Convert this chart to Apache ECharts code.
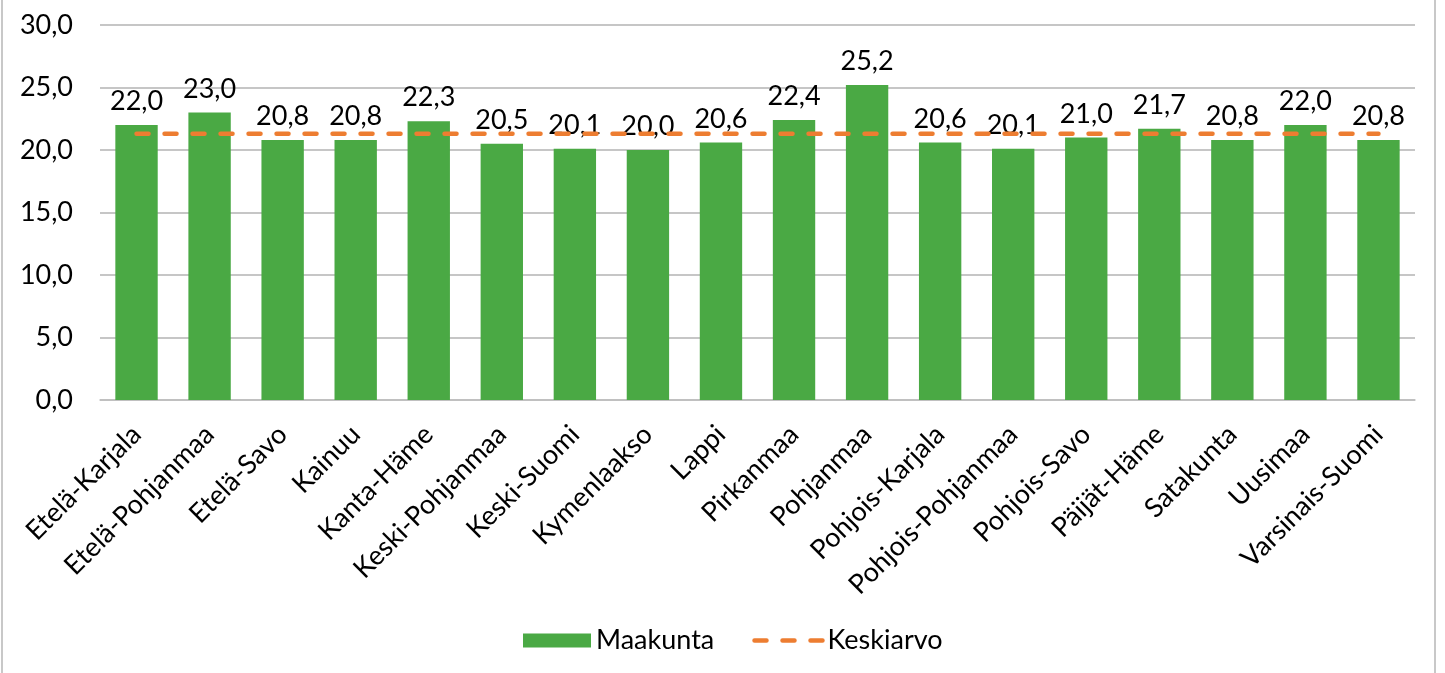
<!DOCTYPE html>
<html><head><meta charset="utf-8">
<script src="https://cdn.jsdelivr.net/npm/echarts@6/dist/echarts.min.js"></script>
<style>
html,body{margin:0;padding:0;background:#fff;}
#frame{position:absolute;left:1px;top:-2px;width:1435px;height:690px;border:2px solid #c8c8c8;box-sizing:border-box;}
#chart{position:absolute;left:0;top:0;width:1445px;height:673px;}
</style></head>
<body>
<div id="frame"></div>
<div id="chart"></div>
<script>
const categories = ["Etelä-Karjala","Etelä-Pohjanmaa","Etelä-Savo","Kainuu","Kanta-Häme","Keski-Pohjanmaa","Keski-Suomi","Kymenlaakso","Lappi","Pirkanmaa","Pohjanmaa","Pohjois-Karjala","Pohjois-Pohjanmaa","Pohjois-Savo","Päijät-Häme","Satakunta","Uusimaa","Varsinais-Suomi"];
const maakunta = [22.0,23.0,20.8,20.8,22.3,20.5,20.1,20.0,20.6,22.4,25.2,20.6,20.1,21.0,21.7,20.8,22.0,20.8];
const keskiarvoValue = 21.3;
const keskiarvo = categories.map(() => keskiarvoValue);
const fmt = v => v.toFixed(1).replace('.', ',');
const FONT = 'Lato';
const FS = 27;
const chart = echarts.init(document.getElementById('chart'));
chart.setOption({
  animation:false,
  textStyle:{fontFamily:FONT},
  grid:{left:100,right:30,top:25,bottom:273,containLabel:false},
  legend:{
    bottom:14,left:518,itemGap:38,itemWidth:68,itemHeight:14,
    textStyle:{fontFamily:FONT,fontSize:FS,color:'#000'},
    data:[{name:'Maakunta',icon:'rect'},
          {name:'Keskiarvo',itemStyle:{opacity:0},lineStyle:{width:4.5,type:[12,16],cap:'round',color:'#ed7d31'}}]
  },
  xAxis:{
    type:'category',data:categories,
    axisLine:{lineStyle:{color:'#bfbfbf',width:1.5}},
    axisTick:{show:false},
    axisLabel:{rotate:45,interval:0,fontFamily:FONT,fontSize:FS,color:'#000',margin:30}
  },
  yAxis:{
    type:'value',min:0,max:30,interval:5,
    axisLine:{show:false},axisTick:{show:false},
    splitLine:{lineStyle:{color:'#b3b3b3',width:1.5}},
    axisLabel:{formatter:fmt,fontFamily:FONT,fontSize:FS,color:'#000',margin:27}
  },
  series:[
    {name:'Maakunta',type:'bar',data:maakunta,barWidth:'58%',
     itemStyle:{color:'#4aa944'},
     label:{show:true,position:'top',distance:10,formatter:p=>fmt(p.value),fontFamily:FONT,fontSize:FS,color:'#000'}},
    {name:'Keskiarvo',type:'line',data:keskiarvo,symbol:'none',
     lineStyle:{color:'#ed7d31',width:4.5,type:[12,16],cap:'round'},
     itemStyle:{color:'#ed7d31'}}
  ]
});
</script>
</body></html>
